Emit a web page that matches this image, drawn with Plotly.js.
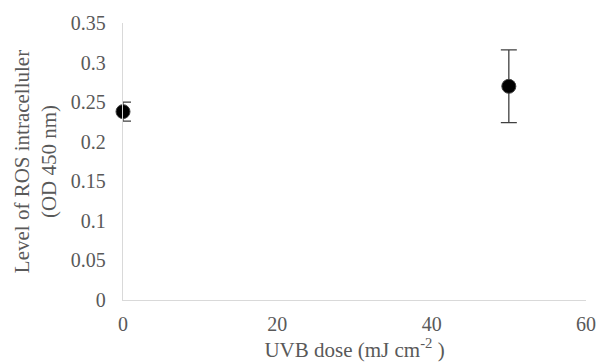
<!DOCTYPE html>
<html>
<head>
<meta charset="utf-8">
<script src="https://cdn.plot.ly/plotly-3.0.1.min.js"></script>
<style>html,body{margin:0;padding:0;background:#fff;}#chart{width:608px;height:363px;}</style>
</head>
<body>
<div id="chart"></div>
<script>
var doses = [0, 50];
var rosLevels = [0.238, 0.270];
var rosErrors = [0.012, 0.046];
var yTicks = [0, 0.05, 0.1, 0.15, 0.2, 0.25, 0.3, 0.35];
var xTicks = [0, 20, 40, 60];

var trace = {
  x: doses,
  y: rosLevels,
  type: 'scatter',
  mode: 'markers',
  cliponaxis: false,
  marker: {color: '#000000', size: 14, line: {color: '#404040', width: 1}},
  error_y: {type: 'data', array: rosErrors, visible: true, color: '#404040', thickness: 1.3, width: 8}
};

var fontFam = 'Liberation Serif, Times New Roman, serif';
var layout = {
  width: 608, height: 363,
  margin: {l: 123, r: 22, t: 23, b: 63},
  paper_bgcolor: '#ffffff', plot_bgcolor: '#ffffff',
  showlegend: false,
  font: {family: fontFam, color: '#595959', size: 20},
  xaxis: {
    range: [0, 60], tickvals: xTicks, ticks: '', showgrid: false, zeroline: false,
    showline: true, linecolor: '#d9d9d9', linewidth: 1.3,
    tickfont: {family: fontFam, size: 20, color: '#595959'},
    ticklabelstandoff: 6,
    title: {text: 'UVB dose (mJ cm<sup>-2</sup> )', font: {family: fontFam, size: 21, color: '#595959'}, standoff: 0}
  },
  yaxis: {
    range: [0, 0.35], tickvals: yTicks, ticks: '', showgrid: false, zeroline: false,
    showline: true, linecolor: '#d9d9d9', linewidth: 1.3,
    tickfont: {family: fontFam, size: 20, color: '#595959'},
    ticklabelstandoff: 12,
    title: {text: 'Level of ROS intracelluler<br>(OD 450 nm)', font: {family: fontFam, size: 21, color: '#595959'}, standoff: 8}
  }
};

Plotly.newPlot('chart', [trace], layout, {displayModeBar: false, staticPlot: true});
</script>
</body>
</html>
